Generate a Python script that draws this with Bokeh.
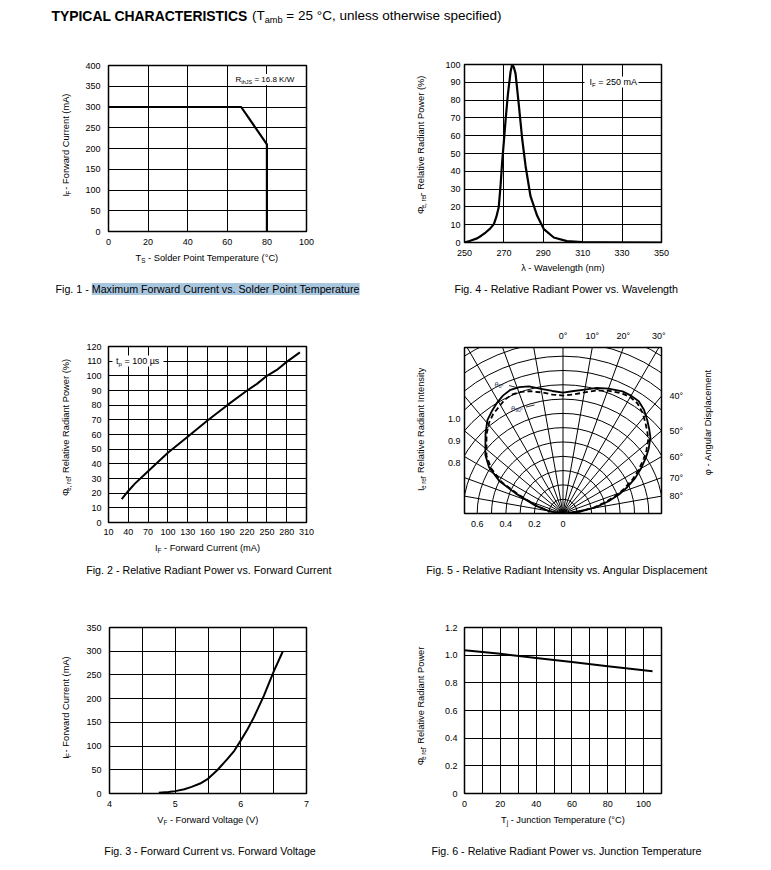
import numpy as np
from bokeh.plotting import figure
from bokeh.models import Range1d, Label, FixedTicker, LinearAxis
from bokeh.layouts import column, row
from bokeh.embed import file_html
from bokeh.resources import INLINE

# ---------------- data ----------------
# Fig. 1  max forward current vs solder point temperature
fig1_ts = [0, 67, 80, 80]
fig1_if = [300, 300, 210, 0]
fig1_xticks = [0, 20, 40, 60, 80, 100]
fig1_yticks = [0, 50, 100, 150, 200, 250, 300, 350, 400]

# Fig. 4  relative radiant power vs wavelength
fig4_wl = [250, 252, 254, 256.4, 258.5, 260.7, 263, 264.9, 266.2, 267.4, 268.3, 269.1, 270.0, 270.8,
           272.0, 273.4, 274.2, 275.0, 275.9, 277.6, 279.3, 281.0, 283.5, 286.9, 290.3, 295.3,
           302.0, 309.7, 320, 350]
fig4_phi = [0, 0.6, 1.4, 2.3, 3.8, 5.6, 7.8, 10.3, 14.5, 20, 32, 45, 57, 68, 83, 96, 100, 98.5, 95,
            77, 58, 43, 26, 15, 7.5, 2.8, 0.8, 0.2, 0.05, 0]
fig4_xticks = [250, 270, 290, 310, 330, 350]
fig4_yticks = [0, 10, 20, 30, 40, 50, 60, 70, 80, 90, 100]

# Fig. 2  relative radiant power vs forward current
fig2_if = [30, 40, 50, 70, 100, 130, 160, 190, 220, 235, 250, 265, 280, 300]
fig2_phi = [16, 21.5, 26.5, 35, 47.5, 58.5, 69.5, 80, 90, 94.5, 100, 104, 109.5, 116]
fig2_xticks = [10, 40, 70, 100, 130, 160, 190, 220, 250, 280, 310]
fig2_yticks = [0, 10, 20, 30, 40, 50, 60, 70, 80, 90, 100, 110, 120]

# Fig. 5  relative radiant intensity vs angular displacement (polar)
fig5_angle = [-88, -80, -74, -67, -63, -58, -53, -48, -44, -39, -35, -31, -27, -23, -19, -15, -10, -5,
              0, 5, 10, 15, 20, 26, 30, 34, 38, 42, 46, 49, 53, 56, 60, 64, 68, 71, 75, 79, 84, 88]
fig5_theta0 = [0.02, 0.10, 0.20, 0.36, 0.50, 0.61, 0.68, 0.73, 0.78, 0.84, 0.87, 0.90, 0.925, 0.94,
               0.935, 0.92, 0.885, 0.86, 0.845, 0.86, 0.88, 0.91, 0.93, 0.95, 0.952, 0.947, 0.92,
               0.88, 0.84, 0.81, 0.75, 0.70, 0.63, 0.56, 0.48, 0.42, 0.33, 0.235, 0.12, 0.03]
fig5_theta90 = [0.02, 0.10, 0.19, 0.34, 0.48, 0.59, 0.67, 0.72, 0.77, 0.82, 0.85, 0.87, 0.895, 0.905,
                0.90, 0.885, 0.86, 0.835, 0.825, 0.835, 0.86, 0.89, 0.915, 0.935, 0.94, 0.93, 0.90,
                0.86, 0.82, 0.79, 0.73, 0.68, 0.61, 0.54, 0.46, 0.40, 0.31, 0.22, 0.11, 0.03]
fig5_rings = [0.1, 0.2, 0.3, 0.4, 0.5, 0.6, 0.7, 0.8, 0.9, 1.0, 1.1, 1.2, 1.3, 1.4]
fig5_rays = [-90, -80, -70, -60, -50, -40, -30, -20, -10, 0, 10, 20, 30, 40, 50, 60, 70, 80, 90]
fig5_top_deg = [0, 10, 20, 30]
fig5_right_deg = [40, 50, 60, 70, 80]
fig5_bottom_ticks = [-0.6, -0.4, -0.2, 0]
fig5_left_labels = ["1.0", "0.9", "0.8"]
fig5_left_pos = [0.661, 0.507, 0.353]

# Fig. 3  forward current vs forward voltage
fig3_vf = [4.75, 4.9, 5.0, 5.14, 5.25, 5.38, 5.5, 5.64, 5.79, 5.9, 6.0, 6.1, 6.2, 6.35, 6.5, 6.64]
fig3_if = [1.4, 3, 5, 9, 14, 21, 31, 49, 72, 90, 112, 135, 161, 206, 257, 300]
fig3_xticks = [4, 5, 6, 7]
fig3_xgrid = [4, 4.5, 5, 5.5, 6, 6.5, 7]
fig3_yticks = [0, 50, 100, 150, 200, 250, 300, 350]

# Fig. 6  relative radiant power vs junction temperature
fig6_tj = [0, 20, 40, 60, 80, 105]
fig6_phi = [1.035, 1.01, 0.98, 0.95, 0.92, 0.883]
fig6_xticks = [0, 20, 40, 60, 80, 100]
fig6_xgrid = [0, 10, 20, 30, 40, 50, 60, 70, 80, 90, 100, 110]
fig6_yticks = [0, 0.2, 0.4, 0.6, 0.8, 1.0, 1.2]

FONT = "Liberation Sans"
AW = {' ': 278, '!': 278, '%': 889, '(': 333, ')': 333, ',': 278, '-': 333, '.': 278, '/': 278,
      '=': 584, '°': 400, 'µ': 556, 'λ': 500, 'Φ': 760, 'φ': 640, 'θ': 556}
for _c in "0123456789":
    AW[_c] = 556
AW.update(dict(zip("ABCDEFGHIJKLMNOPQRSTUVWXYZ",
                   [667, 667, 722, 722, 667, 611, 778, 722, 278, 500, 667, 556, 833, 722, 778, 667,
                    778, 722, 667, 611, 722, 667, 944, 667, 667, 611])))
AW.update(dict(zip("abcdefghijklmnopqrstuvwxyz",
                   [556, 556, 500, 556, 556, 278, 556, 556, 222, 222, 500, 222, 833, 556, 556, 556,
                    556, 333, 500, 278, 556, 500, 722, 500, 500, 500])))


def tw(s, size):
    return sum(AW.get(c, 556) for c in s) * size / 1000.0


def rich(p, x, y, parts, size, angle=0.0, align="left", color="black", rng="default"):
    """Place a run of text pieces (normal / subscript) starting or centred at x, y (page coords)."""
    sub = size * 0.68
    items = []
    for pt in parts:
        t, s = pt[0], pt[1]
        bg = pt[2] if len(pt) > 2 else None
        fs = sub if s else size
        items.append((t, s, bg, fs, tw(t, fs)))
    total = sum(i[4] for i in items)
    if angle == 0:
        pos = x - total / 2 if align == "center" else (x - total if align == "right" else x)
    else:
        pos = y + total / 2 if align == "center" else y
    for t, s, bg, fs, w in items:
        core = t.lstrip(" ")
        lead = tw(t[:len(t) - len(core)], fs)
        core = core.rstrip(" ")
        if angle == 0:
            p.add_layout(Label(x=pos + lead, y=y + (size * 0.3 if s else 0), x_range_name=rng,
                               y_range_name=rng, text=core, text_font=FONT, text_font_size="%.2fpx" % fs,
                               text_align="left", text_baseline="middle", text_color=color,
                               background_fill_color=bg))
            pos += w
        else:
            p.add_layout(Label(x=x + (size * 0.3 if s else 0), y=pos - lead, x_range_name=rng,
                               y_range_name=rng, text=core, text_font=FONT, text_font_size="%.2fpx" % fs,
                               text_align="left", text_baseline="middle", text_color=color,
                               angle=np.pi / 2, background_fill_color=bg))
            pos -= w


def tile(x0, y0, x1, y1):
    """A text-only panel whose frame is the whole canvas, in page pixel coordinates."""
    p = figure(width=x1 - x0, height=y1 - y0, x_range=Range1d(x0, x1), y_range=Range1d(y1, y0),
               output_backend="svg", toolbar_location=None, x_axis_location=None, y_axis_location=None,
               min_border=0)
    p.outline_line_color = None
    p.background_fill_color = "white"
    p.border_fill_color = "white"
    p.grid.visible = False
    for r in p.center:
        r.visible = False
    return p


def style_axis(ax, standoff):
    ax.axis_line_color = None
    ax.major_tick_line_color = None
    ax.minor_tick_line_color = None
    ax.major_tick_out = 0
    ax.major_tick_in = 0
    ax.minor_tick_out = 0
    ax.minor_tick_in = 0
    ax.major_label_text_font = FONT
    ax.major_label_text_font_size = "9px"
    ax.major_label_text_color = "black"
    ax.major_label_standoff = standoff


def chart(x0, y0, x1, y1, fl, ft, fr, fb, xr, yr):
    p = figure(width=x1 - x0, height=y1 - y0, x_range=xr, y_range=yr, output_backend="svg",
               toolbar_location=None, min_border_left=fl - x0, min_border_right=x1 - fr,
               min_border_top=ft - y0, min_border_bottom=y1 - fb)
    p.extra_x_ranges = {"pg": Range1d(fl, fr)}
    p.extra_y_ranges = {"pg": Range1d(fb, ft)}
    p.outline_line_color = "black"
    p.outline_line_width = 1.5
    p.background_fill_color = "white"
    p.border_fill_color = "white"
    for g in p.grid:
        g.grid_line_color = "black"
        g.grid_line_width = 1
        g.grid_line_alpha = 1
    return p


def ticks(p, xt, yt, xg=None, yg=None, xs=7, ys=7):
    p.xaxis.ticker = FixedTicker(ticks=xt)
    p.yaxis.ticker = FixedTicker(ticks=yt)
    p.xgrid.ticker = FixedTicker(ticks=xg if xg is not None else xt)
    p.ygrid.ticker = FixedTicker(ticks=yg if yg is not None else yt)
    style_axis(p.xaxis[0], xs)
    style_axis(p.yaxis[0], ys)


def blank(p, left, right, top, bottom):
    """White box (page coords) behind an in-plot annotation, interrupting the grid lines."""
    p.quad(left=left, right=right, top=top, bottom=bottom, x_range_name="pg", y_range_name="pg",
           fill_color="white", line_color=None)


def caption(p, x, y, parts, align="center"):
    rich(p, x, y, parts, 10.7, align=align)


R = 768  # right edge of the page content

# ---------------- title ----------------
pt = tile(0, 0, R, 34)
pt.add_layout(Label(x=51, y=15, text="TYPICAL CHARACTERISTICS", text_font=FONT, text_font_size="13.9px",
                    text_font_style="bold", text_align="left", text_baseline="middle", text_color="black"))
rich(pt, 251.5, 15, [("(T", 0), ("amb", 1), (" = 25 °C, unless otherwise specified)", 0)], 13.5)

# ---------------- Fig. 1 ----------------
p1 = chart(76, 34, 388, 250, 108, 65, 306, 231, Range1d(0, 100), Range1d(0, 400))
ticks(p1, fig1_xticks, fig1_yticks, xs=7, ys=8)
blank(p1, 232, 296, 73.5, 84.5)
p1.line(fig1_ts, fig1_if, line_color="black", line_width=2.2, line_join="round")
rich(p1, 235, 79, [("R", 0), ("thJS", 1), (" = 16.8 K/W", 0)], 8, rng="pg")
yl1 = tile(0, 34, 76, 250)
rich(yl1, 65, 152, [("I", 0), ("F", 1), (" - Forward Current (mA)", 0)], 9.3, angle=1, align="center")
bl1 = tile(0, 250, 388, 300)
rich(bl1, 207, 257, [("T", 0), ("S", 1), (" - Solder Point Temperature (°C)", 0)], 9.3, align="center")
caption(bl1, 55, 288.5, [("Fig. 1 - ", 0), ("Maximum Forward Current vs. Solder Point Temperature", 0, "#a9c6df")],
        align="left")

# ---------------- Fig. 4 ----------------
p4 = chart(432, 34, R, 261, 464, 64, 661, 242, Range1d(250, 350), Range1d(0, 100))
ticks(p4, fig4_xticks, fig4_yticks, xs=7, ys=4)
blank(p4, 584, 638, 76, 87)
p4.line(fig4_wl, fig4_phi, line_color="black", line_width=2.2, line_join="round")
rich(p4, 589, 81.5, [("I", 0), ("F", 1), (" = 250 mA", 0)], 9, rng="pg")
yl4 = tile(388, 34, 432, 261)
rich(yl4, 420, 153, [("Φ", 0), ("e, rel", 1), (" - Relative Radiant Power (%)", 0)], 9.3, angle=1,
     align="center")
bl4 = tile(388, 261, R, 300)
rich(bl4, 562.5, 267.5, [("λ - Wavelength (nm)", 0)], 9.3, align="center")
caption(bl4, 566, 288.5, [("Fig. 4 - Relative Radiant Power vs. Wavelength", 0)])

# ---------------- Fig. 2 ----------------
p2 = chart(76, 300, 388, 541, 108, 346, 306, 522, Range1d(10, 310), Range1d(0, 120))
ticks(p2, fig2_xticks, fig2_yticks, xs=6, ys=7)
blank(p2, 112, 163, 355, 366)
p2.line(fig2_if, fig2_phi, line_color="black", line_width=2, line_join="round")
rich(p2, 115.5, 360.5, [("t", 0), ("p", 1), (" = 100 µs", 0)], 9, rng="pg")
yl2 = tile(0, 300, 76, 541)
rich(yl2, 65, 433, [("Φ", 0), ("e, rel", 1), (" - Relative Radiant Power (%)", 0)], 9.3, angle=1,
     align="center")
bl2 = tile(0, 541, 388, 580)
rich(bl2, 207, 547.5, [("I", 0), ("F", 1), (" - Forward Current (mA)", 0)], 9.3, align="center")
caption(bl2, 208.5, 569, [("Fig. 2 - Relative Radiant Power vs. Forward Current", 0)])

# ---------------- Fig. 5 (polar) ----------------
SC = 143.0
XM = 98.5 / SC
YM = 166.0 / SC
p5 = chart(432, 300, 690, 540, 464, 347, 661, 513, Range1d(-XM, XM), Range1d(0, YM))
p5.grid.visible = False
p5.xaxis.ticker = FixedTicker(ticks=fig5_bottom_ticks)
p5.xaxis.major_label_overrides = {t: ("%g" % abs(t)) for t in fig5_bottom_ticks}
style_axis(p5.xaxis[0], 7)
p5.yaxis.ticker = FixedTicker(ticks=fig5_left_pos)
p5.yaxis.major_label_overrides = dict(zip(fig5_left_pos, fig5_left_labels))
style_axis(p5.yaxis[0], 4)
top_pos = [float(YM * np.tan(np.deg2rad(d))) for d in fig5_top_deg]
ax_top = LinearAxis(ticker=FixedTicker(ticks=top_pos),
                    major_label_overrides={t: "%d°" % d for t, d in zip(top_pos, fig5_top_deg)})
style_axis(ax_top, 7)
p5.add_layout(ax_top, "above")
right_pos = [float(XM / np.tan(np.deg2rad(d))) for d in fig5_right_deg]
ax_right = LinearAxis(ticker=FixedTicker(ticks=right_pos),
                      major_label_overrides={t: "%d°" % d for t, d in zip(right_pos, fig5_right_deg)})
style_axis(ax_right, 8)
p5.add_layout(ax_right, "right")
p5.arc(x=0, y=0, radius=fig5_rings, start_angle=0, end_angle=np.pi, line_color="black", line_width=1)
p5.ray(x=0, y=0, length=3, angle=np.deg2rad(90 - np.array(fig5_rays, dtype=float)), line_color="black",
       line_width=1)
a = np.deg2rad(np.array(fig5_angle, dtype=float))
r0 = np.array(fig5_theta0)
r90 = np.array(fig5_theta90)
p5.line(r0 * np.sin(a), r0 * np.cos(a), line_color="black", line_width=1.8, line_join="round")
p5.line(r90 * np.sin(a), r90 * np.cos(a), line_color="black", line_width=1.8, line_dash="5 3")
rich(p5, 494, 383.5, [("θ", 0), ("0°", 1)], 7.5, color="#34405f", rng="pg")
rich(p5, 510.5, 407.5, [("θ", 0), ("90°", 1)], 7.5, color="#34405f", rng="pg")
p5.segment(x0=[508.5, 525.5], y0=[385, 406.5], x1=[516, 534], y1=[387, 404.5], x_range_name="pg",
           y_range_name="pg", line_color="black", line_width=0.8)
yl5 = tile(388, 300, 432, 540)
rich(yl5, 420, 443, [("I", 0), ("e rel", 1), (" - Relative Radiant Intensity", 0)], 9.3, angle=1, align="center")
yr5 = tile(690, 300, R, 540)
rich(yr5, 707.5, 432, [("φ - Angular Displacement", 0)], 9.3, angle=1, align="center")
bl5 = tile(388, 540, R, 580)
caption(bl5, 566.7, 569, [("Fig. 5 - Relative Radiant Intensity vs. Angular Displacement", 0)])

# ---------------- Fig. 3 ----------------
p3 = chart(76, 580, 388, 812, 109, 627, 306, 793, Range1d(4, 7), Range1d(0, 350))
ticks(p3, fig3_xticks, fig3_yticks, xg=fig3_xgrid, xs=7, ys=8)
p3.line(fig3_vf, fig3_if, line_color="black", line_width=2, line_join="round")
yl3 = tile(0, 580, 76, 812)
rich(yl3, 65, 711, [("I", 0), ("F", 1), (" - Forward Current (mA)", 0)], 9.3, angle=1, align="center")
bl3 = tile(0, 812, 388, 866)
rich(bl3, 207.5, 819, [("V", 0), ("F", 1), (" - Forward Voltage (V)", 0)], 9.3, align="center")
caption(bl3, 210, 850, [("Fig. 3 - Forward Current vs. Forward Voltage", 0)])

# ---------------- Fig. 6 ----------------
p6 = chart(432, 580, R, 812, 464, 627, 661, 793, Range1d(0, 110), Range1d(0, 1.2))
ticks(p6, fig6_xticks, fig6_yticks, xg=fig6_xgrid, xs=7, ys=7)
p6.yaxis.major_label_overrides = {t: ("0" if t == 0 else "%.1f" % t) for t in fig6_yticks}
p6.line(fig6_tj, fig6_phi, line_color="black", line_width=2, line_join="round")
yl6 = tile(388, 580, 432, 812)
rich(yl6, 420, 710, [("Φ", 0), ("e rel", 1), (" - Relative Radiant Power", 0)], 9.3, angle=1, align="center")
bl6 = tile(388, 812, R, 866)
rich(bl6, 563, 819, [("T", 0), ("j", 1), (" - Junction Temperature (°C)", 0)], 9.3, align="center")
caption(bl6, 566.8, 850, [("Fig. 6 - Relative Radiant Power vs. Junction Temperature", 0)])

left1 = column(row(yl1, p1), bl1)
right1 = column(row(yl4, p4), bl4)
left2 = column(row(yl2, p2), bl2)
right2 = column(row(yl5, p5, yr5), bl5)
left3 = column(row(yl3, p3), bl3)
right3 = column(row(yl6, p6), bl6)
layout = column(pt, row(left1, right1), row(left2, right2), row(left3, right3))
open("out.html", "w").write(file_html(layout, INLINE))
